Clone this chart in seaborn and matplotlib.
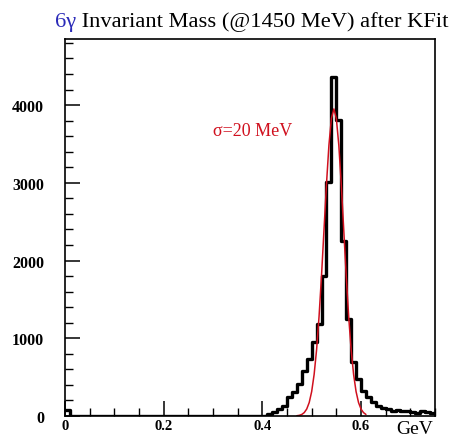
import numpy as np
import pandas as pd
import matplotlib
matplotlib.use("Agg")
import matplotlib.pyplot as plt
from matplotlib.ticker import MultipleLocator, FuncFormatter
import seaborn as sns

# ---------------- data ----------------
bin_width = 0.01
bin_low = np.round(np.arange(0.0, 0.75, bin_width), 2)          # 75 bins, 0..0.75 GeV
counts = ([80] +
          [0, 0, 0, 0, 0, 0, 0, 0, 0, 0,
           0, 0, 0, 0, 0, 0, 0, 0, 0, 0,
           0, 0, 0, 0, 0, 0, 0, 0, 0, 0,
           0, 0, 0, 0, 0, 0, 0, 0, 0, 0] +
          [26, 55, 90, 133, 244, 309, 412, 583, 733, 952,
           1184, 1800, 3011, 4360, 3810, 2256, 1248, 695, 476, 326,
           240, 176, 133, 99, 85, 70, 75, 60, 62, 55,
           45, 58, 50, 35])

fit_x = [0.470, 0.475, 0.480, 0.485, 0.490, 0.495, 0.500, 0.505, 0.510, 0.515,
         0.520, 0.525, 0.530, 0.535, 0.540, 0.545, 0.550, 0.555, 0.560, 0.565,
         0.570, 0.575, 0.580, 0.585, 0.590, 0.595, 0.600, 0.605, 0.610]
fit_y = [3.5, 8.6, 20, 44, 90, 173, 314, 535, 854, 1283,
         1808, 2396, 2981, 3486, 3828, 3950, 3828, 3486, 2981, 2396,
         1808, 1283, 854, 535, 314, 173, 90, 44, 20]

x_ticks = [0, 0.2, 0.4, 0.6]
y_ticks = [0, 1000, 2000, 3000, 4000]

df = pd.DataFrame({"mass": bin_low + bin_width / 2, "n": counts})
fit = pd.DataFrame({"x": fit_x, "y": fit_y})

# ---------------- style ----------------
sns.set_style("white")
plt.rcParams["font.family"] = ["Liberation Serif", "DejaVu Serif"]

W, H = 452, 439
fig = plt.figure(figsize=(W / 100, H / 100), dpi=100)
ax = fig.add_axes([65 / W, (H - 417) / H, 370 / W, 377 / H])

sns.histplot(data=df, x="mass", weights="n", binwidth=bin_width, binrange=(0, 0.75),
             element="step", fill=False, color="black", linewidth=2.4, ax=ax)
sns.lineplot(data=fit, x="x", y="y", color="#d0101e", linewidth=1.1, ax=ax)

ax.set_xlim(0, 0.75)
ax.set_ylim(0, 4850)
ax.set_xlabel("")
ax.set_ylabel("")

ax.set_xticks(x_ticks)
ax.set_yticks(y_ticks)
ax.xaxis.set_minor_locator(MultipleLocator(0.05))
ax.yaxis.set_minor_locator(MultipleLocator(200))
ax.xaxis.set_major_formatter(FuncFormatter(lambda v, p: f"{v:g}"))
ax.yaxis.set_major_formatter(FuncFormatter(lambda v, p: f"{v:.0f}"))

ax.tick_params(axis="both", which="both", direction="in", bottom=True, left=True,
               top=False, right=False, colors="black")
ax.tick_params(axis="both", which="major", length=11, width=1.1)
ax.tick_params(axis="both", which="minor", length=6, width=1.0)
ax.tick_params(axis="x", which="major", pad=2, labelsize=10.5)
ax.tick_params(axis="y", which="major", pad=15, labelsize=11.5)
for lab in ax.get_xticklabels() + ax.get_yticklabels():
    lab.set_fontweight("bold")

for s in ax.spines.values():
    s.set_color("black")
    s.set_linewidth(1.2)

# title: blue "6γ" followed by black text
t1 = fig.text(55 / W, 1 - 22 / H, "6γ", color="#2a2ab8", fontsize=16.2,
              ha="left", va="center")
ax.annotate(" Invariant Mass (@1450 MeV) after KFit", xy=(1, 0), xycoords=t1,
            ha="left", va="bottom", fontsize=16.2, color="black",
            annotation_clip=False)

fig.text(213 / W, 1 - 131 / H, "σ=20 MeV", color="#d0101e", fontsize=13,
         ha="left", va="center")
fig.text(433 / W, 1 - 438 / H, "GeV", color="black", fontsize=14,
         ha="right", va="bottom")

fig.savefig("out.png", dpi=100)
